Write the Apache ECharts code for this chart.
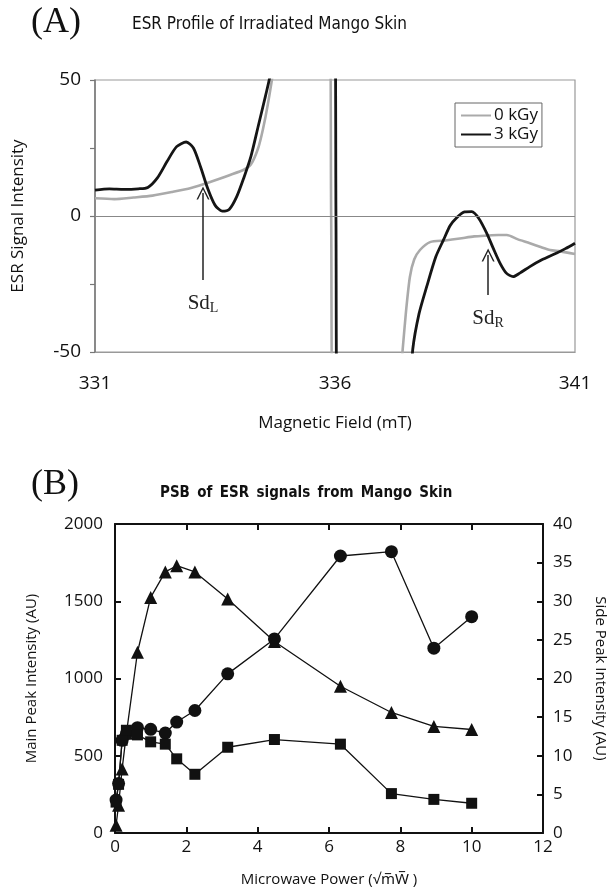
<!DOCTYPE html>
<html>
<head>
<meta charset="utf-8">
<script src="https://cdn.jsdelivr.net/npm/echarts@6/dist/echarts.min.js"></script>
<style>
  html, body { margin: 0; padding: 0; background: #fff; }
  #chart { width: 616px; height: 895px; }
</style>
</head>
<body>
<div id="chart"></div>
<script>
// panel A: ESR spectra (magnetic field in mT, signal intensity)
const field0 = [331.0, 331.4, 331.8, 332.2, 332.6, 333.0, 333.4, 333.8, 334.1, 334.25, 334.4, 334.5, 334.6, 334.7, 334.8,
  335.88, 335.92, 335.96, 337.3, 337.41, 337.48, 337.56, 337.65, 337.77, 337.98, 338.3, 338.6, 338.9, 339.16, 339.4,
  339.58, 339.8, 340.06, 340.3, 340.48, 340.7, 341.0]
const signal0 = [6.5, 6.2, 6.8, 7.5, 8.8, 10.3, 12.5, 15, 17, 19, 25, 32, 41, 52, 70,
  70, 0, -70, -70, -49, -35, -22.4, -16, -12.5, -9.6, -9, -8.3, -7.5, -7.2, -7,
  -7, -8.5, -10, -11.5, -12.5, -13, -14]

const field3 = [331.0, 331.3, 331.6, 331.9, 332.1, 332.3, 332.5, 332.7, 332.9, 333.05, 333.2, 333.35, 333.5, 333.65,
  333.8, 333.95, 334.1, 334.25, 334.4, 334.55, 334.65, 334.8, 335.99, 336.02, 336.05, 337.5, 337.62, 337.75, 337.91,
  338.1, 338.26, 338.4, 338.53, 338.7, 338.85, 339.0, 339.16, 339.3, 339.44, 339.57, 339.71, 339.85, 340.06, 340.3,
  340.62, 340.8, 341.0]
const signal3 = [9.5, 10, 9.8, 10, 10.5, 14, 20, 25.5, 27.2, 25, 18, 10, 4, 1.8,
  2.5, 7, 14, 22, 33, 44, 52, 75, 75, 0, -75, -75, -49, -36, -26,
  -15, -8.8, -3.5, -0.7, 1.5, 1.6, -1, -6.3, -12, -17.4, -21, -22.3, -21, -18.6, -16.2,
  -13.6, -12, -10]

// panel B: power saturation (sqrt mW)
const powerX = [0.03, 0.1, 0.2, 0.32, 0.63, 1.0, 1.41, 1.73, 2.24, 3.16, 4.47, 6.32, 7.75, 8.94, 10]
const mainPeak = [213, 320, 600, 643, 682, 671, 647, 718, 793, 1030, 1256, 1793, 1821, 1196, 1400]
const sidePeakTri = [1.0, 3.6, 8.3, 12.9, 23.4, 30.5, 33.8, 34.6, 33.8, 30.3, 24.8, 19.0, 15.6, 13.8, 13.4]
const sidePeakSq = [4.0, 6.3, 12.0, 13.3, 12.7, 11.8, 11.5, 9.6, 7.6, 11.1, 12.1, 11.5, 5.1, 4.35, 3.85]

const sansFont = "'Open Sans', 'Noto Sans', sans-serif"
const narrowFont = "'Liberation Sans Narrow', 'DejaVu Sans Condensed', sans-serif"
const serifFont = "'Liberation Serif', 'DejaVu Serif', serif"

const pairs = (xs, ys) => xs.map((x, i) => [x, ys[i]])

const sdLabel = (sub) => ({
  show: true,
  position: "start",
  distance: 13,
  formatter: "Sd{s|" + sub + "}",
  color: "#222",
  fontFamily: serifFont,
  fontSize: 21,
  rich: {
    s: { fontFamily: serifFont, fontSize: 14, color: "#222", padding: [8, 0, 0, 0] },
  },
})

const arrowHead = "path://M0,10 L5,0 L10,10 L8.8,10 L5,2.4 L1.2,10 Z"

const chart = echarts.init(document.getElementById("chart"))
chart.setOption({
  animation: false,
  title: [
    { text: "(A)", left: 26, top: 0, textStyle: { fontFamily: serifFont, fontSize: 36, fontWeight: "normal", color: "#111" } },
    { text: "ESR Profile of Irradiated Mango Skin", left: 127, top: 11,
      textStyle: { fontFamily: narrowFont, fontSize: 17, fontWeight: "normal", color: "#111" } },
    { text: "(B)", left: 26, top: 462, textStyle: { fontFamily: serifFont, fontSize: 36, fontWeight: "normal", color: "#111" } },
    { text: "PSB \u2009of \u2009ESR \u2009signals \u2009from \u2009Mango \u2009Skin", left: 155, top: 481,
      textStyle: { fontFamily: narrowFont, fontSize: 15, fontWeight: "bold", color: "#111" } },
  ],
  legend: {
    data: ["0 kGy", "3 kGy"],
    orient: "vertical",
    left: 455,
    top: 103,
    padding: [4, 4, 4, 6],
    itemGap: 2,
    icon: "rect",
    itemWidth: 30,
    itemHeight: 2,
    borderColor: "#666",
    borderWidth: 1,
    textStyle: { fontFamily: sansFont, fontSize: 17, color: "#111", padding: [0, 0, 0, -2] },
  },
  grid: [
    { left: 95, top: 80, width: 480, height: 272, show: true, borderColor: "#999", borderWidth: 1.2, backgroundColor: "transparent" },
    { left: 115, top: 524, width: 429, height: 309 },
  ],
  xAxis: [
    {
      type: "value", gridIndex: 0, min: 331, max: 341, interval: 5,
      name: "Magnetic Field (mT)", nameLocation: "middle", nameGap: 63,
      nameTextStyle: { fontFamily: sansFont, fontSize: 17, color: "#111" },
      axisLine: { onZero: false, lineStyle: { color: "#999", width: 1.2 } },
      axisTick: { show: false },
      axisLabel: { fontFamily: sansFont, fontSize: 19, color: "#111", margin: 22 },
      splitLine: { show: false },
    },
    {
      type: "value", gridIndex: 1, min: 0, max: 12, interval: 2,
      name: "Microwave Power (\u221Am\u0305W\u0305 )", nameLocation: "middle", nameGap: 39,
      nameTextStyle: { fontFamily: sansFont, fontSize: 15, color: "#111" },
      axisLine: { onZero: false, lineStyle: { color: "#111", width: 2 } },
      axisTick: { inside: true, length: 6, lineStyle: { width: 2, color: "#111" } },
      axisLabel: { fontFamily: sansFont, fontSize: 17, color: "#111", margin: 6 },
      splitLine: { show: false },
    },
    {
      type: "value", gridIndex: 1, position: "top", min: 0, max: 12, interval: 2,
      axisLine: { onZero: false, lineStyle: { color: "#111", width: 2 } },
      axisTick: { inside: true, length: 6, lineStyle: { width: 2, color: "#111" } },
      axisLabel: { show: false },
      splitLine: { show: false },
    },
  ],
  yAxis: [
    {
      type: "value", gridIndex: 0, min: -50, max: 50, interval: 25,
      name: "ESR Signal Intensity", nameLocation: "middle", nameGap: 68,
      nameTextStyle: { fontFamily: sansFont, fontSize: 17, color: "#111" },
      axisLine: { show: true, onZero: false, lineStyle: { color: "#777", width: 1.5 } },
      axisTick: { show: true, length: 5, lineStyle: { color: "#777", width: 1.2 } },
      axisLabel: {
        fontFamily: sansFont, fontSize: 19, color: "#111", margin: 14,
        formatter: (v) => (v % 50 === 0 ? String(v) : ""),
      },
      splitLine: { show: false },
    },
    {
      type: "value", gridIndex: 1, min: 0, max: 2000, interval: 500,
      name: "Main Peak Intensity (AU)", nameLocation: "middle", nameGap: 76,
      nameTextStyle: { fontFamily: sansFont, fontSize: 15, color: "#111" },
      axisLine: { show: true, onZero: false, lineStyle: { color: "#111", width: 2 } },
      axisTick: { inside: true, length: 6, lineStyle: { width: 2, color: "#111" } },
      axisLabel: { fontFamily: sansFont, fontSize: 17, color: "#111", margin: 12, formatter: (v) => String(v) },
      splitLine: { show: false },
    },
    {
      type: "value", gridIndex: 1, position: "right", min: 0, max: 40, interval: 5,
      name: "Side Peak Intensity (AU)", nameLocation: "middle", nameGap: 50, nameRotate: -90,
      nameTextStyle: { fontFamily: sansFont, fontSize: 15, color: "#111" },
      axisLine: { show: true, onZero: false, lineStyle: { color: "#111", width: 2 } },
      axisTick: { inside: true, length: 6, lineStyle: { width: 2, color: "#111" } },
      axisLabel: { fontFamily: sansFont, fontSize: 17, color: "#111", margin: 10 },
      splitLine: { show: false },
    },
  ],
  series: [
    {
      name: "0 kGy", type: "line", xAxisIndex: 0, yAxisIndex: 0,
      data: pairs(field0, signal0),
      symbol: "none", smooth: 0.25, clip: true,
      lineStyle: { color: "#aaa", width: 2.6 }, itemStyle: { color: "#aaa" },
      z: 2,
      markLine: {
        silent: true, symbol: "none",
        lineStyle: { color: "#888", width: 1.2, type: "solid" },
        label: { show: false },
        data: [{ yAxis: 0 }],
      },
    },
    {
      name: "3 kGy", type: "line", xAxisIndex: 0, yAxisIndex: 0,
      data: pairs(field3, signal3),
      symbol: "none", smooth: 0.25, clip: true,
      lineStyle: { color: "#151515", width: 2.8 }, itemStyle: { color: "#151515" },
      z: 3,
      markLine: {
        silent: true,
        symbol: ["none", arrowHead],
        symbolSize: [13, 13],
        lineStyle: { color: "#222", width: 1.5, type: "solid" },
        data: [
          [{ coord: [333.25, -23.5], label: sdLabel("L") }, { coord: [333.25, 8.5] }],
          [{ coord: [339.19, -29], label: sdLabel("R") }, { coord: [339.19, -14.3] }],
        ],
      },
    },
    {
      name: "main", type: "line", xAxisIndex: 1, yAxisIndex: 1,
      data: pairs(powerX, mainPeak),
      symbol: "circle", symbolSize: 13,
      lineStyle: { color: "#111", width: 1.3 }, itemStyle: { color: "#111" },
    },
    {
      name: "sideTri", type: "line", xAxisIndex: 1, yAxisIndex: 2,
      data: pairs(powerX, sidePeakTri),
      symbol: "triangle", symbolSize: 13,
      lineStyle: { color: "#111", width: 1.3 }, itemStyle: { color: "#111" },
    },
    {
      name: "sideSq", type: "line", xAxisIndex: 1, yAxisIndex: 2,
      data: pairs(powerX, sidePeakSq),
      symbol: "rect", symbolSize: 11,
      lineStyle: { color: "#111", width: 1.3 }, itemStyle: { color: "#111" },
    },
  ],
})
</script>
</body>
</html>
